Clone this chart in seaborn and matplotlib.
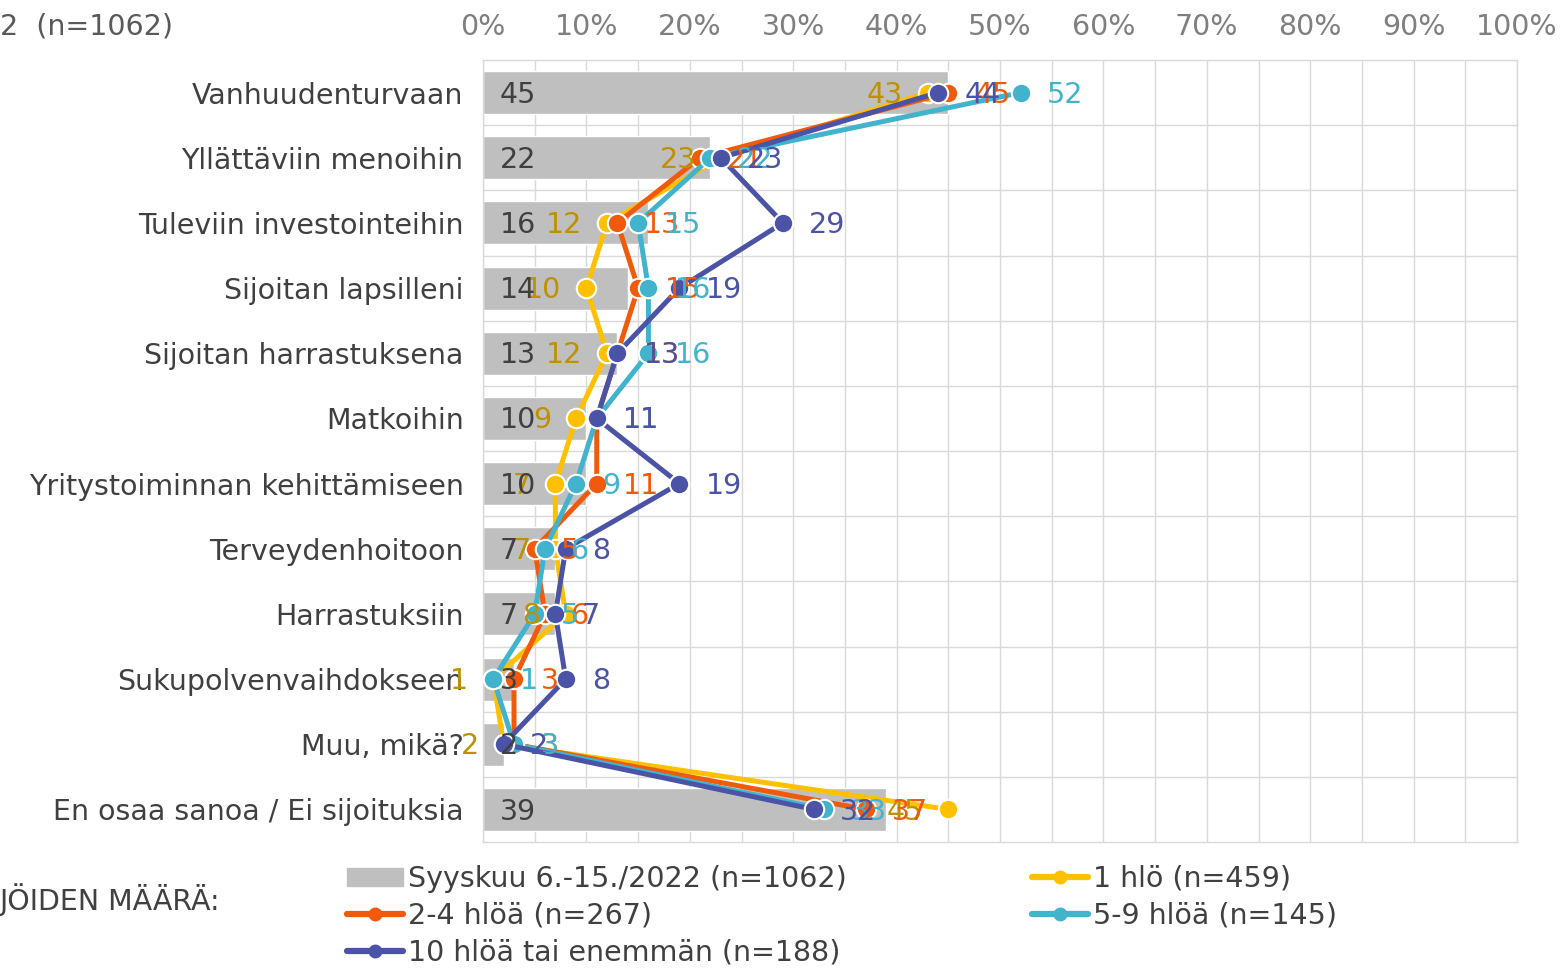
import numpy as np
import matplotlib
matplotlib.use("Agg")
from matplotlib import pyplot as plt
from matplotlib.lines import Line2D
from matplotlib.patches import Patch
import seaborn as sns

categories = [
    "Vanhuudenturvaan",
    "Yllättäviin menoihin",
    "Tuleviin investointeihin",
    "Sijoitan lapsilleni",
    "Sijoitan harrastuksena",
    "Matkoihin",
    "Yritystoiminnan kehittämiseen",
    "Terveydenhoitoon",
    "Harrastuksiin",
    "Sukupolvenvaihdokseen",
    "Muu, mikä?",
    "En osaa sanoa / Ei sijoituksia",
]
total = [45, 22, 16, 14, 13, 10, 10, 7, 7, 3, 2, 39]
one_person = [43, 23, 12, 10, 12, 9, 7, 7, 8, 1, 2, 45]
two_four = [45, 21, 13, 15, 13, 11, 11, 5, 6, 3, 3, 37]
five_nine = [52, 22, 15, 16, 16, 11, 9, 6, 5, 1, 3, 33]
ten_plus = [44, 23, 29, 19, 13, 11, 19, 8, 7, 8, 2, 32]

total_label = "Syyskuu 6.-15./2022 (n=1062)"
series = [
    ("1 hlö (n=459)", one_person, "#FFC000", "#BF9000", "left"),
    ("2-4 hlöä (n=267)", two_four, "#F05A0A", "#F05A0A", "right"),
    ("5-9 hlöä (n=145)", five_nine, "#41B3CD", "#41B3CD", "right"),
    ("10 hlöä tai enemmän (n=188)", ten_plus, "#4A53A6", "#4A53A6", "right"),
]
x_ticks = np.arange(0, 101, 10)

FS = 20.5
TXT = "#404040"
GRID = "#D9D9D9"

sns.set_style("white")
plt.rcParams["font.family"] = ["DejaVu Sans"]

fig = plt.figure(figsize=(15.6, 9.69), dpi=100)
ax = fig.add_axes([483 / 1560, 1 - 842 / 969, (1517 - 483) / 1560, (842 - 60) / 969])

sns.barplot(x=total, y=categories, color="#BFBFBF", width=0.66, orient="h",
            saturation=1, ax=ax, zorder=1)

pos = np.arange(len(categories))
for i, v in enumerate(total):
    ax.annotate(f"{v}", (0, i), xytext=(12, -1.5), textcoords="offset points",
                ha="left", va="center", fontsize=FS, color=TXT, zorder=6)

for name, vals, col, lab_col, side in series:
    sns.lineplot(x=vals, y=pos, orient="y", sort=False, color=col, linewidth=3.6,
                 marker="o", markersize=14, markeredgecolor="white",
                 markeredgewidth=1.5, legend=False, ax=ax, zorder=3)
    for i, v in enumerate(vals):
        if side == "left":
            ax.annotate(f"{v}", (v, i), xytext=(-18, -1.5), textcoords="offset points",
                        ha="right", va="center", fontsize=FS, color=lab_col, zorder=5)
        else:
            ax.annotate(f"{v}", (v, i), xytext=(19, -1.5), textcoords="offset points",
                        ha="left", va="center", fontsize=FS, color=lab_col, zorder=5)

ax.set_xlim(0, 100)
ax.set_ylim(len(categories) - 0.5, -0.5)
ax.set_xticks(x_ticks)
ax.set_xticklabels([f"{t}%" for t in x_ticks])
ax.set_xticks(np.arange(5, 100, 10), minor=True)
ax.set_yticks(pos)
ax.set_yticklabels(categories)
ax.set_yticks(pos[:-1] + 0.5, minor=True)
ax.xaxis.tick_top()
ax.tick_params(axis="x", which="both", length=0, labelsize=FS, labelcolor="#7F7F7F", pad=14)
ax.tick_params(axis="y", which="both", length=0, labelsize=FS, labelcolor=TXT, pad=14)
ax.grid(True, axis="x", which="both", color=GRID, linewidth=1)
ax.grid(True, axis="y", which="minor", color=GRID, linewidth=1)
ax.set_axisbelow(True)
ax.set_xlabel("")
ax.set_ylabel("")
for s in ax.spines.values():
    s.set_color(GRID)
    s.set_linewidth(1)

fig.text(0, 1 - 26 / 969, "2  (n=1062)", ha="left", va="center",
         fontsize=FS, color="#595959")
fig.text(0, 1 - 900 / 969, "JÖIDEN MÄÄRÄ:", ha="left", va="center",
         fontsize=FS, color=TXT)

def leg_line(col):
    return Line2D([0], [0], color=col, linewidth=4.5, marker="o", markersize=9,
                  markeredgecolor=col, solid_capstyle="round")

handles = [Patch(color="#BFBFBF"), leg_line(series[1][2]), leg_line(series[3][2]),
           leg_line(series[0][2]), leg_line(series[2][2])]
labels = [total_label, series[1][0], series[3][0], series[0][0], series[2][0]]
fig.legend(handles, labels, ncol=2, loc="upper left",
           bbox_to_anchor=(347 / 1560, 1 - 865 / 969), frameon=False,
           fontsize=FS, labelcolor=TXT, handlelength=1.95, handleheight=0.6,
           handletextpad=0.2, columnspacing=6.5, labelspacing=0.3,
           borderpad=0, borderaxespad=0)

fig.savefig("out.png", dpi=100)
